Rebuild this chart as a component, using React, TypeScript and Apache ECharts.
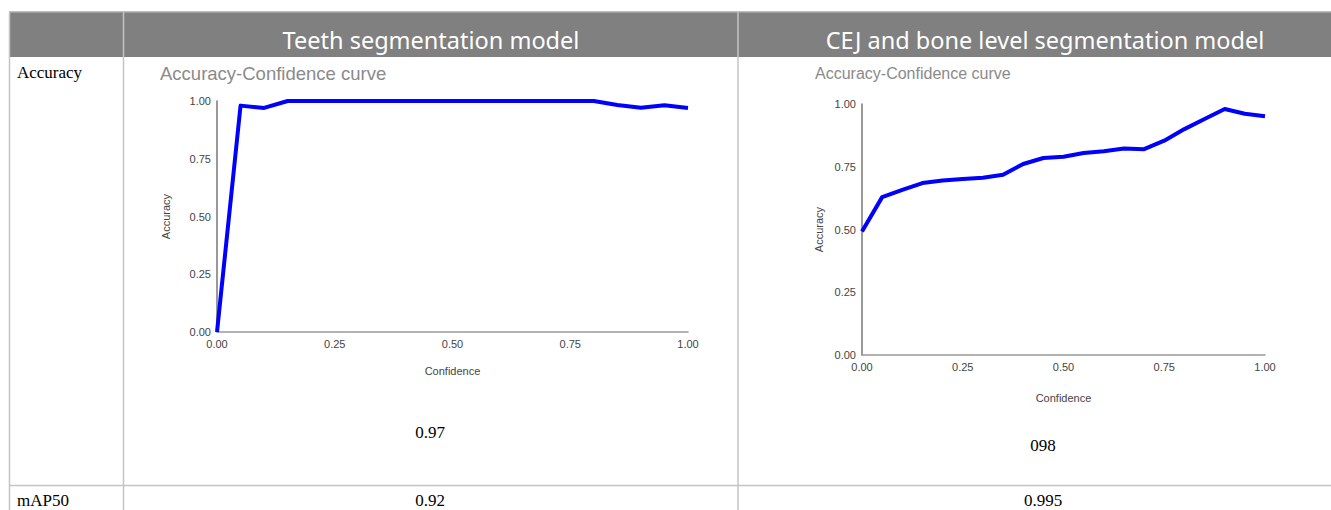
import React, { useEffect, useRef } from "react";
import * as echarts from "echarts";

const confidence = [0, 0.05, 0.1, 0.15, 0.2, 0.25, 0.3, 0.35, 0.4, 0.45, 0.5, 0.55, 0.6, 0.65, 0.7, 0.75, 0.8, 0.85, 0.9, 0.95, 1.0];
const teethAccuracy = [0, 0.98, 0.97, 1.0, 1.0, 1.0, 1.0, 1.0, 1.0, 1.0, 1.0, 1.0, 1.0, 1.0, 1.0, 1.0, 1.0, 0.983, 0.971, 0.982, 0.97];
const cejAccuracy = [0.492, 0.629, 0.658, 0.685, 0.695, 0.701, 0.706, 0.718, 0.761, 0.785, 0.79, 0.805, 0.812, 0.823, 0.82, 0.854, 0.9, 0.94, 0.98, 0.961, 0.951];
const columnHeaders = ["Teeth segmentation model", "CEJ and bone level segmentation model"];
const rowLabels = ["Accuracy", "mAP50"];
const accuracyValues = ["0.97", "098"];
const map50Values = ["0.92", "0.995"];
const axisTicks = [0, 0.25, 0.5, 0.75, 1];

export default function App() {
  const ref = useRef<HTMLDivElement>(null);
  useEffect(() => {
    if (!ref.current) return;
    const chart = echarts.init(ref.current, null, { renderer: "svg" });
    const border = "#c4c4c4";
    const labelFont = "'Liberation Sans Narrow', 'Liberation Sans', Arial, sans-serif";
    const mkX = (idx: number, gap: number) => ({
      type: "value",
      gridIndex: idx,
      min: axisTicks[0],
      max: axisTicks[axisTicks.length - 1],
      interval: 0.25,
      name: "Confidence",
      nameLocation: "middle",
      nameGap: gap,
      nameTextStyle: { color: "#444", fontSize: 11, fontFamily: labelFont },
      axisLine: { show: true, lineStyle: { color: "#999", width: 1.5 } },
      axisTick: { show: false },
      splitLine: { show: false },
      axisLabel: { color: "#444", fontSize: 11, fontFamily: labelFont, margin: 6, formatter: (v: number) => v.toFixed(2) },
    });
    const mkY = (idx: number, gap: number) => ({
      type: "value",
      gridIndex: idx,
      min: 0,
      max: 1,
      interval: 0.25,
      name: "Accuracy",
      nameLocation: "middle",
      nameGap: gap,
      nameTextStyle: { color: "#444", fontSize: 11, fontFamily: labelFont },
      axisLine: { show: true, lineStyle: { color: "#777", width: 1.5 } },
      axisTick: { show: false },
      splitLine: { show: false },
      axisLabel: { color: "#444", fontSize: 11, fontFamily: labelFont, margin: 6, formatter: (v: number) => v.toFixed(2) },
    });
    const serif = "'Liberation Serif', 'Times New Roman', serif";
    const sans = "'Noto Sans', 'Open Sans', sans-serif";
    const graphic: any[] = [
      { type: "rect", shape: { x: 9, y: 12, width: 1322, height: 45 }, style: { fill: "#808080" }, z: 0 },
      { type: "line", shape: { x1: 9, y1: 12, x2: 1331, y2: 12 }, style: { stroke: "#a8a8a8", lineWidth: 1.5 } },
      { type: "line", shape: { x1: 9.5, y1: 12, x2: 9.5, y2: 510 }, style: { stroke: border, lineWidth: 1.5 } },
      { type: "line", shape: { x1: 123.5, y1: 12, x2: 123.5, y2: 510 }, style: { stroke: border, lineWidth: 1.5 } },
      { type: "line", shape: { x1: 738, y1: 12, x2: 738, y2: 510 }, style: { stroke: border, lineWidth: 1.5 } },
      { type: "line", shape: { x1: 9, y1: 485.5, x2: 1331, y2: 485.5 }, style: { stroke: border, lineWidth: 1.5 } },
      { type: "text", x: 431, y: 40, style: { text: columnHeaders[0], fill: "#fff", font: `23.5px ${sans}`, align: "center", verticalAlign: "middle" } },
      { type: "text", x: 1045, y: 40, style: { text: columnHeaders[1], fill: "#fff", font: `23.5px ${sans}`, align: "center", verticalAlign: "middle" } },
      { type: "text", x: 17, y: 72, style: { text: rowLabels[0], fill: "#000", font: `17px ${serif}`, align: "left", verticalAlign: "middle" } },
      { type: "text", x: 17, y: 500, style: { text: rowLabels[1], fill: "#000", font: `17px ${serif}`, align: "left", verticalAlign: "middle" } },
      { type: "text", x: 430, y: 432, style: { text: accuracyValues[0], fill: "#000", font: `17px ${serif}`, align: "center", verticalAlign: "middle" } },
      { type: "text", x: 1043, y: 445, style: { text: accuracyValues[1], fill: "#000", font: `17px ${serif}`, align: "center", verticalAlign: "middle" } },
      { type: "text", x: 430, y: 500, style: { text: map50Values[0], fill: "#000", font: `17px ${serif}`, align: "center", verticalAlign: "middle" } },
      { type: "text", x: 1043, y: 500, style: { text: map50Values[1], fill: "#000", font: `17px ${serif}`, align: "center", verticalAlign: "middle" } },
    ];
    chart.setOption({
      animation: false,
      backgroundColor: "#fff",
      title: [
        { text: "Accuracy-Confidence curve", left: 160, top: 64, textStyle: { color: "#8a8a8a", fontSize: 18.5, fontWeight: "normal", fontFamily: "'Liberation Sans', Arial, sans-serif" }, padding: 0 },
        { text: "Accuracy-Confidence curve", left: 815, top: 65, textStyle: { color: "#8a8a8a", fontSize: 16, fontWeight: "normal", fontFamily: "'Liberation Sans', Arial, sans-serif" }, padding: 0 },
      ],
      grid: [
        { left: 217, right: 643, top: 101, bottom: 178 },
        { left: 862, right: 66, top: 104, bottom: 155 },
      ],
      xAxis: [mkX(0, 33), mkX(1, 37)],
      yAxis: [mkY(0, 46), mkY(1, 38)],
      series: [
        {
          type: "line",
          xAxisIndex: 0,
          yAxisIndex: 0,
          data: confidence.map((c, i) => [c, teethAccuracy[i]]),
          showSymbol: false,
          lineStyle: { color: "#0000ff", width: 4, join: "round" },
        },
        {
          type: "line",
          xAxisIndex: 1,
          yAxisIndex: 1,
          data: confidence.map((c, i) => [c, cejAccuracy[i]]),
          showSymbol: false,
          lineStyle: { color: "#0000ff", width: 4, join: "round" },
        },
      ],
      graphic,
    });
    return () => chart.dispose();
  }, []);
  return <div ref={ref} style={{ position: "absolute", left: 0, top: 0, width: 1331, height: 510 }} />;
}
